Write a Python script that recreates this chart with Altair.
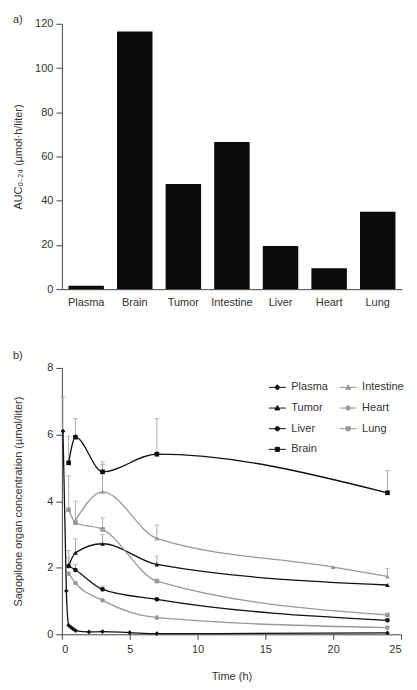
import altair as alt
import pandas as pd

# ---------- panel a) ----------
organs = ["Plasma", "Brain", "Tumor", "Intestine", "Liver", "Heart", "Lung"]
auc = [1.5, 116.5, 47.5, 66.5, 19.5, 9.5, 35.0]

# ---------- panel b) ----------
series_order = ["Plasma", "Tumor", "Liver", "Brain", "Intestine", "Heart", "Lung"]
series_colors = ["#111111", "#111111", "#111111", "#111111", "#999999", "#999999", "#999999"]
series_shapes = ["diamond", "triangle-up", "circle", "square", "triangle-up", "circle", "square"]

black_series = ["Plasma", "Tumor", "Liver", "Brain"]
gray_series = ["Intestine", "Heart", "Lung"]
black_legend_paths = [
    "M-1,0H1M0,-0.32L0.3,0L0,0.32L-0.3,0Z",
    "M-1,0H1M0,-0.3L0.3,0.22L-0.3,0.22Z",
    "M-1,0H1M-0.26,0A0.26,0.26 0 1,0 0.26,0A0.26,0.26 0 1,0 -0.26,0Z",
    "M-1,0H1M-0.24,-0.24H0.24V0.24H-0.24Z",
]
gray_legend_paths = [
    "M-1,0H1M0,-0.3L0.3,0.22L-0.3,0.22Z",
    "M-1,0H1M-0.26,0A0.26,0.26 0 1,0 0.26,0A0.26,0.26 0 1,0 -0.26,0Z",
    "M-1,0H1M-0.24,-0.24H0.24V0.24H-0.24Z",
]

plasma_t = [0.083, 0.33, 0.5, 0.67, 0.83, 1, 2, 3, 5, 7, 24]
plasma_v = [6.1, 1.3, 0.27, 0.21, 0.16, 0.11, 0.07, 0.08, 0.05, 0.02, 0.04]
plasma_up = [7.13, None, None, None, None, None, None, None, None, None, None]

brain_t = [0.5, 1, 3, 7, 24]
brain_v = [5.15, 5.92, 4.88, 5.41, 4.25]
brain_up = [5.95, 6.48, 5.18, 6.48, 4.92]

intestine_t = [1, 3, 7, 20, 24]
intestine_v = [3.42, 4.28, 2.88, 2.02, 1.74]
intestine_up = [4.0, 5.1, 3.28, None, 1.97]

tumor_t = [0.5, 1, 3, 7, 24]
tumor_v = [2.05, 2.45, 2.72, 2.1, 1.48]
tumor_up = [2.52, 2.87, 3.0, 2.35, None]

liver_t = [0.5, 1, 3, 7, 24]
liver_v = [2.05, 1.93, 1.35, 1.05, 0.42]
liver_up = [2.3, 2.1, 1.45, None, None]

heart_t = [0.5, 1, 3, 7, 24]
heart_v = [1.82, 1.54, 1.02, 0.5, 0.2]
heart_up = [None, None, None, None, None]

lung_t = [0.5, 1, 3, 7, 24]
lung_v = [3.74, 3.35, 3.15, 1.6, 0.58]
lung_up = [4.76, None, 3.5, None, None]

rows = []
for name, ts, vs, ups in [
    ("Plasma", plasma_t, plasma_v, plasma_up),
    ("Brain", brain_t, brain_v, brain_up),
    ("Intestine", intestine_t, intestine_v, intestine_up),
    ("Tumor", tumor_t, tumor_v, tumor_up),
    ("Liver", liver_t, liver_v, liver_up),
    ("Heart", heart_t, heart_v, heart_up),
    ("Lung", lung_t, lung_v, lung_up),
]:
    for t, v, u in zip(ts, vs, ups):
        rows.append({"series": name, "t": t, "value": v, "upper": u})
df = pd.DataFrame(rows)
err_df = df.dropna(subset=["upper"])
bar_df = pd.DataFrame({"organ": organs, "auc": auc})

FONT = "Liberation Sans"
TXT = "#333333"
AX = "#444444"

# ---------- chart a ----------
bars = alt.Chart(bar_df).mark_bar(color="#0b0b0b").encode(
    x=alt.X("organ:N", sort=organs, title=None,
            scale=alt.Scale(paddingInner=0.27, paddingOuter=0.135),
            axis=alt.Axis(labelAngle=0, ticks=False, labelPadding=7)),
    y=alt.Y("auc:Q", title="AUC₀₋₂₄ (µmol·h/liter)",
            scale=alt.Scale(domain=[0, 120], nice=False),
            axis=alt.Axis(values=[0, 20, 40, 60, 80, 100, 120], tickSize=6, labelPadding=3,
                          minExtent=28, maxExtent=28, titlePadding=10, grid=False)),
).properties(width=341, height=266,
             title=alt.TitleParams("a)", anchor="start", fontSize=11, fontWeight="normal",
                                   color=TXT, font=FONT, offset=-7))

# ---------- chart b ----------
xenc = alt.X("t:Q", title="Time (h)", scale=alt.Scale(domain=[0, 25], nice=False),
             axis=alt.Axis(values=[0, 5, 10, 15, 20, 25], tickSize=5, labelPadding=4,
                           titlePadding=16, grid=False))
yenc = alt.Y("value:Q", title="Sagopilone organ concentration (µmol/liter)",
             scale=alt.Scale(domain=[0, 8], nice=False),
             axis=alt.Axis(values=list(range(9)), tickSize=6, labelPadding=3,
                           minExtent=28, maxExtent=28, titlePadding=10, grid=False))
color_enc = alt.Color("series:N", scale=alt.Scale(domain=series_order, range=series_colors), legend=None)

err_rule = alt.Chart(err_df).mark_rule(color="#aaaaaa", strokeWidth=1).encode(
    x=xenc, y=yenc, y2="upper:Q")
err_cap = alt.Chart(err_df).mark_tick(color="#aaaaaa", orient="horizontal", size=5, thickness=1).encode(
    x="t:Q", y="upper:Q")

lines = alt.Chart(df).mark_line(interpolate="monotone", strokeWidth=1.3).encode(
    x=xenc, y=yenc, color=color_enc, detail="series:N", order="t:Q")

points = alt.Chart(df).mark_point(filled=True, opacity=1, size=22).encode(
    x=xenc, y=yenc, color=color_enc,
    shape=alt.Shape("series:N", scale=alt.Scale(domain=series_order, range=series_shapes), legend=None))


def legend_layer(names, paths, col, lx):
    lg = alt.Legend(title=None, orient="none", legendX=lx, legendY=10.5, direction="vertical",
                    symbolSize=289, symbolStrokeWidth=1,
                    labelFontSize=11, labelColor=TXT, labelFont=FONT, labelOffset=5,
                    rowPadding=6.7, padding=0)
    return alt.Chart(df).transform_filter(
        alt.FieldOneOfPredicate(field="series", oneOf=names)).transform_filter("false").mark_point(
        filled=True, opacity=1, fill=col, stroke=col, strokeWidth=1).encode(
        x="t:Q", y="value:Q",
        shape=alt.Shape("series:N", scale=alt.Scale(domain=names, range=paths), legend=lg))


leg_black = legend_layer(black_series, black_legend_paths, "#111111", 207)
leg_gray = legend_layer(gray_series, gray_legend_paths, "#999999", 278)

chart_b = alt.layer(err_rule, err_cap, lines, points, leg_black, leg_gray).resolve_scale(
    shape="independent").properties(
    width=340, height=267,
    title=alt.TitleParams("b)", anchor="start", fontSize=11, fontWeight="normal",
                          color=TXT, font=FONT, offset=1))

chart = alt.vconcat(bars, chart_b, spacing=43).configure(font=FONT).configure_view(
    stroke=None).configure_axis(
    labelFont=FONT, labelFontSize=11, labelColor=TXT, titleFont=FONT, titleFontSize=11,
    titleFontWeight="normal", titleColor=TXT, domainColor=AX, tickColor=AX)

chart.save("out.html", embed_options={"renderer": "svg", "actions": False})
